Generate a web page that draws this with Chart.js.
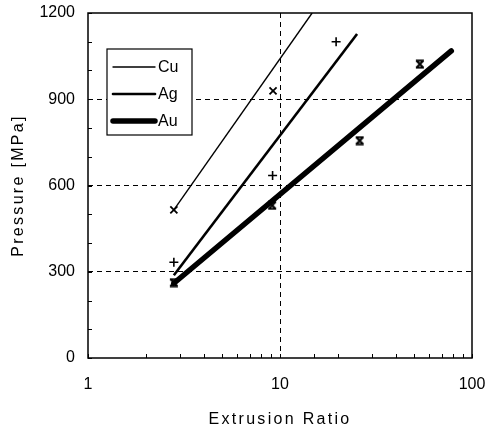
<!DOCTYPE html>
<html>
<head>
<meta charset="utf-8">
<script src="https://cdn.jsdelivr.net/npm/chart.js@4.4.0/dist/chart.umd.min.js"></script>
<style>
html, body { margin: 0; padding: 0; background: #fff; }
#wrap { width: 491px; height: 429px; }
</style>
</head>
<body>
<div id="wrap"><canvas id="myChart"></canvas></div>
<script>
// fitted lines (extrusion ratio -> pressure)
var cuLineX = [2.8, 14.7];
var cuLineY = [515, 1200];
var agLineX = [2.8, 25.2];
var agLineY = [288, 1127];
var auLineX = [2.8, 78];
var auLineY = [260, 1068];

// measured points
var cuPointsX = [2.8, 9.2];
var cuPointsY = [515, 929];
var agPointsX = [2.8, 9.15, 19.6];
var agPointsY = [333, 635, 1100];
var auPointsX = [2.8, 9.1, 26, 53.5];
var auPointsY = [262, 531, 756, 1022];

var xTickLabels = [1, 10, 100];
var yTickLabels = [0, 300, 600, 900, 1200];


function toXY(xs, ys) {
    var out = [];
    for (let i = 0; i < xs.length; i++) {
        out.push({x: xs[i], y: ys[i]});
    }
    return out;
}

// x marker with bars top and bottom
function hourglass() {
    var c = document.createElement('canvas');
    c.width = 10;
    c.height = 10;
    var g = c.getContext('2d');
    g.strokeStyle = '#000';
    g.lineWidth = 2;
    g.beginPath();
    g.moveTo(1.5, 1.5); g.lineTo(8.5, 8.5);
    g.moveTo(8.5, 1.5); g.lineTo(1.5, 8.5);
    g.moveTo(1, 1.5); g.lineTo(9, 1.5);
    g.moveTo(1, 8.5); g.lineTo(9, 8.5);
    g.stroke();
    return c;
}

var extras = {
    id: 'extras',
    beforeDraw: function (chart) {
        ['x', 'y'].forEach(function (id) {
            var s = chart.scales[id];
            if (s._spaced) return;
            var orig = s.drawTitle;
            s.drawTitle = function () {
                this.ctx.save();
                this.ctx.letterSpacing = '2.3px';
                orig.apply(this, arguments);
                this.ctx.restore();
            };
            s._spaced = true;
        });
    },
    afterDraw: function (chart) {
        var ctx = chart.ctx, a = chart.chartArea;
        var xs = chart.scales.x, ys = chart.scales.y;
        ctx.save();
        ctx.strokeStyle = '#000';

        // small inward ticks
        ctx.lineWidth = 1;
        ctx.beginPath();
        ys.ticks.forEach(function (t) {
            var py = Math.round(ys.getPixelForValue(t.value)) + 0.5;
            ctx.moveTo(a.left, py);
            ctx.lineTo(a.left + 4, py);
        });
        xs.ticks.forEach(function (t) {
            var px = Math.round(xs.getPixelForValue(t.value)) + 0.5;
            ctx.moveTo(px, a.bottom);
            ctx.lineTo(px, a.bottom - 4);
        });
        ctx.stroke();

        // frame
        ctx.lineWidth = 1.5;
        ctx.strokeRect(a.left, a.top, a.right - a.left, a.bottom - a.top);

        // legend box
        var bx = a.left + 19, by = a.top + 36;
        ctx.fillStyle = '#fff';
        ctx.fillRect(bx, by, 85, 86);
        ctx.lineWidth = 1.2;
        ctx.strokeRect(bx, by, 85, 86);
        ctx.font = '16px "Liberation Sans", Arial, sans-serif';
        ctx.textBaseline = 'middle';
        ctx.fillStyle = '#000';
        for (let i = 0; i < 3; i++) {
            var ds = chart.data.datasets[i];
            var ly = by + 18 + i * 27;
            ctx.lineWidth = ds.borderWidth;
            ctx.lineCap = 'round';
            ctx.beginPath();
            ctx.moveTo(bx + 6, ly);
            ctx.lineTo(bx + 48, ly);
            ctx.stroke();
            ctx.fillText(ds.label, bx + 51, ly + 1);
        }
        ctx.restore();
    }
};

var font16 = {family: '"Liberation Sans", Arial, sans-serif', size: 16};

function drawChart() {
    var ctx = document.getElementById('myChart');
    var myChart = new Chart(ctx, {
        type: 'scatter',
        data: {
            datasets: [
                {label: 'Cu', data: toXY(cuLineX, cuLineY), showLine: true, borderColor: '#000', borderWidth: 1.4, pointRadius: 0},
                {label: 'Ag', data: toXY(agLineX, agLineY), showLine: true, borderColor: '#000', borderWidth: 2.6, pointRadius: 0},
                {label: 'Au', data: toXY(auLineX, auLineY), showLine: true, borderColor: '#000', borderWidth: 5.5, pointRadius: 0, borderCapStyle: 'round'},
                {label: 'Cu data', data: toXY(cuPointsX, cuPointsY), pointStyle: 'crossRot', pointRadius: 5, borderColor: '#000', borderWidth: 1.8},
                {label: 'Ag data', data: toXY(agPointsX, agPointsY), pointStyle: 'cross', pointRadius: 4.5, borderColor: '#000', borderWidth: 1.6},
                {label: 'Au data', data: toXY(auPointsX, auPointsY), pointStyle: hourglass(), pointRadius: 5, borderColor: '#000'}
            ]
        },
        options: {
            responsive: true,
            maintainAspectRatio: false,
            animation: false,
            layout: {padding: {top: 13, right: 19, left: 0, bottom: 0}},
            plugins: {
                legend: {display: false},
                tooltip: {enabled: false}
            },
            scales: {
                x: {
                    type: 'logarithmic',
                    min: 1,
                    max: 100,
                    afterFit: function (s) {
                        s.height = 71;
                        s.paddingLeft = 0;
                        s.paddingRight = 0;
                    },
                    ticks: {
                        autoSkip: false,
                        maxRotation: 0,
                        padding: 17,
                        color: '#000',
                        font: font16,
                        callback: function (v) {
                            return xTickLabels.indexOf(Math.round(v)) >= 0 && Math.abs(v - Math.round(v)) < 1e-9 ? String(Math.round(v)) : '';
                        }
                    },
                    grid: {
                        drawTicks: false,
                        color: function (c) { return c.tick && c.tick.value === 10 ? '#000' : 'rgba(0,0,0,0)'; }
                    },
                    border: {display: false, dash: [5, 4]},
                    title: {display: true, text: 'Extrusion Ratio', color: '#000', font: font16, padding: {top: 1.5, bottom: 0}}
                },
                y: {
                    min: 0,
                    max: 1200,
                    afterFit: function (s) {
                        s.width = 88;
                        s.paddingTop = 0;
                        s.paddingBottom = 0;
                    },
                    ticks: {
                        stepSize: 100,
                        padding: 13,
                        color: '#000',
                        font: font16,
                        callback: function (v) { return yTickLabels.indexOf(v) >= 0 ? String(v) : ''; }
                    },
                    grid: {
                        drawTicks: false,
                        color: function (c) { return c.tick && (c.tick.value === 300 || c.tick.value === 600 || c.tick.value === 900) ? '#000' : 'rgba(0,0,0,0)'; }
                    },
                    border: {display: false, dash: [5, 4]},
                    title: {display: true, text: 'Pressure [MPa]', color: '#000', font: font16, padding: {top: 8.5, bottom: 0}}
                }
            }
        },
        plugins: [extras]
    });
}

drawChart();
</script>
</body>
</html>
